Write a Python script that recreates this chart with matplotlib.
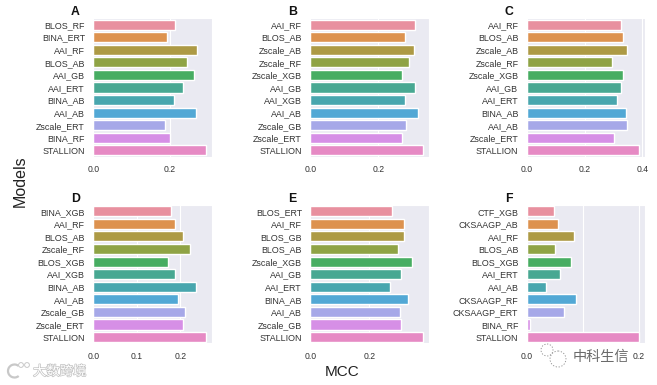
import matplotlib

matplotlib.use("Agg")
import matplotlib.patheffects as pe
import matplotlib.pyplot as plt
import seaborn as sns
from matplotlib.patches import Arc, Circle

models_a = ["BLOS_RF", "BINA_ERT", "AAI_RF", "BLOS_AB", "AAI_GB", "AAI_ERT", "BINA_AB", "AAI_AB", "Zscale_ERT", "BINA_RF", "STALLION"]
mcc_a = [0.212, 0.193, 0.270, 0.244, 0.263, 0.233, 0.210, 0.268, 0.187, 0.201, 0.294]

models_b = ["AAI_RF", "BLOS_AB", "Zscale_AB", "Zscale_RF", "Zscale_XGB", "AAI_GB", "AAI_XGB", "AAI_AB", "Zscale_GB", "Zscale_ERT", "STALLION"]
mcc_b = [0.308, 0.277, 0.305, 0.290, 0.270, 0.307, 0.278, 0.317, 0.282, 0.270, 0.330]

models_c = ["AAI_RF", "BLOS_AB", "Zscale_AB", "Zscale_RF", "Zscale_XGB", "AAI_GB", "AAI_ERT", "BINA_AB", "AAI_AB", "Zscale_ERT", "STALLION"]
mcc_c = [0.326, 0.333, 0.346, 0.294, 0.332, 0.326, 0.312, 0.342, 0.348, 0.302, 0.388]

models_d = ["BINA_XGB", "AAI_RF", "BLOS_AB", "Zscale_RF", "BLOS_XGB", "AAI_XGB", "BINA_AB", "AAI_AB", "Zscale_GB", "Zscale_ERT", "STALLION"]
mcc_d = [0.1785, 0.188, 0.206, 0.222, 0.172, 0.188, 0.236, 0.194, 0.211, 0.206, 0.259]

models_e = ["BLOS_ERT", "AAI_RF", "BLOS_GB", "BLOS_AB", "Zscale_XGB", "AAI_GB", "AAI_ERT", "BINA_AB", "AAI_AB", "Zscale_GB", "STALLION"]
mcc_e = [0.278, 0.317, 0.317, 0.297, 0.345, 0.307, 0.270, 0.331, 0.305, 0.307, 0.381]

models_f = ["CTF_XGB", "CKSAAGP_AB", "AAI_RF", "BLOS_AB", "BLOS_XGB", "AAI_ERT", "AAI_AB", "CKSAAGP_RF", "CKSAAGP_ERT", "BINA_RF", "STALLION"]
mcc_f = [0.048, 0.0565, 0.0845, 0.0506, 0.0786, 0.059, 0.0345, 0.088, 0.066, 0.006, 0.2006]

panels = ["A", "B", "C", "D", "E", "F"]
all_models = [models_a, models_b, models_c, models_d, models_e, models_f]
all_mcc = [mcc_a, mcc_b, mcc_c, mcc_d, mcc_e, mcc_f]
xticks = [[0, 0.2], [0, 0.2], [0, 0.2, 0.4], [0, 0.1, 0.2], [0, 0.2], [0, 0.1, 0.2]]
xlabels = [["0.0", "0.2"], ["0.0", "0.2"], ["0.0", "0.2", "0.4"], ["0.0", "0.1", "0.2"], ["0.0", "0.2"], ["0.0", "", "0.2"]]
xmax = [0.309, 0.348, 0.409, 0.272, 0.401, 0.211]
colors = ["#e8909f", "#dd924f", "#ad9a45", "#8fa345", "#47ad62", "#48a892", "#48a6ae", "#52a8d5", "#a6a8e8", "#d68fe6", "#e68ac4"]

W, H = 657, 385
lefts = [93.3, 310.3, 526.7]
tops = [18.3, 205.0]
ax_w, ax_h = 118.4, 138.4

sns.set_style("darkgrid")
plt.rcParams["font.family"] = ["Liberation Sans", "Noto Sans CJK SC", "DejaVu Sans"]

fig = plt.figure(figsize=(W / 100, H / 100), dpi=100)

for i, panel in enumerate(panels):
    left = lefts[i % 3]
    top = tops[i // 3]
    ax = fig.add_axes([left / W, 1 - (top + ax_h) / H, ax_w / W, ax_h / H])
    sns.barplot(x=all_mcc[i], y=all_models[i], hue=all_models[i], palette=colors, saturation=1, legend=False, ax=ax)
    ax.set_xlim(0, xmax[i])
    ax.set_xticks(xticks[i])
    ax.set_xticklabels(xlabels[i])
    ax.tick_params(axis="x", labelsize=6.2, pad=6, length=0, labelcolor="#333333")
    ax.tick_params(axis="y", labelsize=6.4, pad=6, length=0, labelcolor="#333333")
    ax.annotate(panel, xy=(0, 1), xycoords="axes fraction", xytext=(-13, 0), textcoords="offset points",
                ha="center", va="bottom", fontsize=8.8, fontweight="bold", color="#111111")

fig.text(20 / W, 1 - 181 / H, "Models", rotation=90, ha="center", va="center", fontsize=11.5, color="#222222")
fig.text(342 / W, 1 - 372 / H, "MCC", ha="center", va="center", fontsize=11, color="#222222")

# watermarks, drawn on a pixel overlay
over = fig.add_axes([0, 0, 1, 1], zorder=5)
over.set_xlim(0, W)
over.set_ylim(H, 0)
over.axis("off")
over.patch.set_alpha(0)

over.text(33, 372, "大数跨境", ha="left", va="center", fontsize=9.6, color="white",
          path_effects=[pe.withStroke(linewidth=1.0, foreground="#c2c2c2")])
over.add_patch(Arc((14.5, 371), 13, 13, theta1=50, theta2=310, color="#c8c8c8", lw=1.6))
over.add_patch(Circle((21, 365), 2.4, fc="white", ec="#c8c8c8", lw=0.7))
over.add_patch(Circle((27, 365), 2.4, fc="white", ec="#c8c8c8", lw=0.7))

over.text(573, 357, "中科生信", ha="left", va="center", fontsize=10.2, color="#6a6a6a")
over.add_patch(Circle((547, 350), 6, fc="white", ec="#8a8a8a", lw=0.6, ls=(0, (1.5, 2))))
over.add_patch(Circle((558, 359), 8, fc="white", ec="#8a8a8a", lw=0.6, ls=(0, (1.5, 2))))

fig.savefig("out.png", dpi=100)
